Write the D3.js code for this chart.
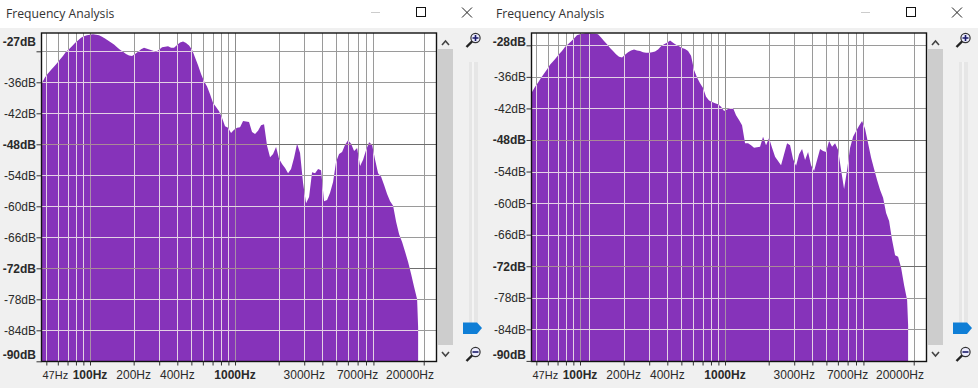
<!DOCTYPE html>
<html>
<head>
<meta charset="utf-8">
<script src="https://cdnjs.cloudflare.com/ajax/libs/d3/7.8.5/d3.min.js"></script>
<style>
  html, body { margin: 0; padding: 0; background: #f0f0f0; overflow: hidden; }
  svg { display: block; }
  text { font-family: "Liberation Sans", Arial, sans-serif; font-size: 12px; fill: #2a2a2a; }
  .title { font-family: "Open Sans", sans-serif; font-size: 12.2px; fill: #333; }
</style>
</head>
<body>
<div id="chart"></div>
<script>
// Spectrum envelope sampled at the same frequencies for both windows
const freqs = [46.7, 49, 51.3, 53.8, 56.4, 59.2, 62.1, 65.1, 68.3, 71.6, 75.1, 78.8, 82.6, 86.7, 90.9, 95.3,
  100, 104.9, 110, 115.4, 121, 126.9, 133.1, 139.6, 146.4, 153.6, 161.1, 168.9, 177.2, 185.8, 194.9,
  204.4, 214.4, 224.9, 235.8, 247.3, 259.4, 272.1, 285.3, 299.3, 313.9, 329.2, 345.3, 362.1, 379.8,
  398.3, 417.7, 438.1, 459.5, 481.9, 505.4, 530.1, 555.9, 583.1, 611.5, 641.3, 672.6, 705.4, 739.9,
  776, 813.8, 853.6, 895.2, 938.9, 984.7, 1033, 1083, 1136, 1191, 1249, 1310, 1374, 1441, 1512, 1585,
  1663, 1744, 1829, 1918, 2012, 2110, 2213, 2321, 2434, 2553, 2678, 2808, 2945, 3089, 3240, 3398,
  3564, 3738, 3920, 4111, 4312, 4522, 4743, 4975, 5217, 5472, 5739, 6019, 6313, 6621, 6944, 7283,
  7638, 8011, 8402, 8812, 9242, 9693, 10170, 10660, 11180, 11730, 12300, 12900, 13530, 14190, 14880,
  15610, 16370, 17170, 18010, 18300];

const leftDb = [-36.1, -35, -34.3, -33.6, -33, -32.3, -31.6, -30.9, -30.1, -29.6, -29, -28.4, -27.9, -27.4, -27.1, -26.9,
  -26.8, -26.7, -26.8, -26.9, -27.2, -27.5, -27.9, -28.3, -28.7, -29.2, -29.7, -30.1, -30.5, -30.8, -30.9,
  -30.5, -30.1, -29.6, -29.3, -29.5, -29.7, -29.9, -30.1, -29.7, -29.2, -29.1, -29, -29.3, -29.3,
  -28.8, -28.3, -28.1, -28.4, -28.9, -29.7, -31.2, -32.7, -34.4, -35.8, -36.8, -38.3, -40, -40.8,
  -41.6, -42.9, -44.5, -44.8, -45.8, -45.2, -44.8, -44.7, -43.5, -43.6, -43.7, -45.6, -46, -45.4, -44.3, -44.1,
  -48.3, -50.5, -49.9, -48.5, -50.8, -51.8, -52.6, -53.6, -52.8, -50.6, -47.9, -49.7, -55.5, -59.4, -58.2, -53.4,
  -53.6, -52.8, -53, -59, -58.8, -57.4, -55.3, -51.4, -49.9, -49.5, -48.1, -47.2, -47.9, -49.3, -48.7, -52.2,
  -51, -49.1, -47.6, -48.1, -51, -53.6, -54.3, -55.9, -57.6, -59, -59.9, -63, -65.4, -66.9, -68.8,
  -70.8, -73.1, -75.6, -78, -83.4];

const rightDb = [-38.9, -37.9, -37.1, -36.2, -35.4, -34.6, -33.7, -33.1, -32.4, -31.7, -31.1, -30.3, -29.8, -29.3, -28.7, -28.1,
  -27.9, -27.8, -27.7, -27.7, -27.8, -27.8, -27.9, -28.5, -29.2, -29.8, -30.5, -31.1, -31.7, -32.2, -32.3,
  -31.8, -31.3, -31, -30.8, -31, -31.1, -31.3, -31.4, -31.4, -31.3, -31.2, -30.8, -30.2, -29.8,
  -29.5, -29.1, -29.5, -29.9, -30.2, -30.5, -30.7, -31.1, -32, -34.7, -36.1, -37.2, -38.1, -39.8,
  -40.5, -40.8, -41, -41.2, -41.7, -42.5, -42.2, -41.9, -41.9, -43.3, -44.2, -45.2, -48.6, -48.6, -49, -49.5,
  -49.4, -49.3, -47.4, -49, -47.6, -49.5, -51.2, -52, -52.8, -50.7, -48.6, -49, -51.6, -52.9, -50.7, -49.7,
  -51.8, -50.3, -52.8, -53.9, -51.8, -49.7, -50.1, -50.3, -48.2, -49.3, -48.6, -49.9, -53.7, -57.3, -53.7, -49.5,
  -47.4, -46.3, -45.3, -44.4, -45.9, -48.6, -51.4, -53.5, -55.6, -57.5, -59, -61.9, -63.4, -67, -69.9,
  -70.2, -72.3, -75.6, -78.4, -83.2];

const gridHz = [50, 60, 70, 80, 90, 100, 200, 300, 400, 500, 600, 700, 800, 900, 1000,
  2000, 3000, 4000, 5000, 6000, 7000, 8000, 9000, 20000];
const majorHz = [100, 1000];
const hzLabels = [47, 100, 200, 400, 1000, 3000, 7000, 20000];
const gridDb = [-30, -36, -42, -48, -54, -60, -66, -72, -78, -84];
const majorDb = [-48, -72];
const dbLabelsCommon = [-36, -42, -48, -54, -60, -66, -72, -78, -84, -90];
const boldDb = [-48, -72, -90];

const W = 978, H = 388, panelW = 490;
const plot = { left: 41.5, right: 436.5, top: 33, bottom: 361.5 };
const purple = '#8633ba';

const svg = d3.select('#chart').append('svg').attr('width', W).attr('height', H);

function drawWindow(id, offset, dbValues, topDb, yTop, yBottom, topLabel, extraHz) {
  const g = svg.append('g').attr('transform', `translate(${offset},0)`);

  const x = d3.scaleLog().domain([46.3, 24500]).range([plot.left, plot.right]);
  const y = d3.scaleLinear().domain(topDb).range([yTop, yBottom]);
  const px = v => Math.round(v) + 0.5;

  // title bar
  g.append('rect').attr('width', panelW).attr('height', 28).attr('fill', '#fff');
  g.append('text').attr('class', 'title').attr('x', 6).attr('y', 18).text('Frequency Analysis');
  g.append('line').attr('x1', 371).attr('x2', 380).attr('y1', 12.5).attr('y2', 12.5).attr('stroke', '#ccc');
  g.append('rect').attr('x', 416.5).attr('y', 7.5).attr('width', 9).attr('height', 9).attr('fill', 'none').attr('stroke', '#111');
  g.append('path').attr('d', 'M462,7.5L472,17.5M472,7.5L462,17.5').attr('stroke', '#222').attr('fill', 'none');

  // plot background + gray grid
  g.append('rect').attr('x', plot.left).attr('y', plot.top)
    .attr('width', plot.right - plot.left).attr('height', plot.bottom - plot.top).attr('fill', '#fff');

  const allHz = extraHz ? gridHz.concat(extraHz) : gridHz;
  const drawGrid = (parent, vColor, hColor, vMajor, hMajor) => {
    parent.selectAll('line.v').data(allHz).enter().append('line').attr('class', 'v')
      .attr('x1', d => px(x(d))).attr('x2', d => px(x(d)))
      .attr('y1', plot.top).attr('y2', plot.bottom)
      .attr('stroke', d => majorHz.includes(d) ? vMajor : vColor);
    parent.selectAll('line.h').data(gridDb).enter().append('line').attr('class', 'h')
      .attr('x1', plot.left).attr('x2', plot.right)
      .attr('y1', d => px(y(d))).attr('y2', d => px(y(d)))
      .attr('stroke', d => majorDb.includes(d) ? hMajor : hColor);
  };
  drawGrid(g.append('g'), '#9a9a9a', '#9a9a9a', '#8c8c8c', '#6e6e6e');

  // spectrum
  const rows = freqs.map((f, i) => ({ f, db: dbValues[i] }));
  const area = d3.area().x(d => x(d.f)).y0(plot.bottom).y1(d => y(d.db));
  const full = [{ f: 46.3, db: dbValues[0] }].concat(rows);
  const pathD = area(full);
  g.append('path').attr('d', pathD).attr('fill', purple);

  // light grid only where it crosses the purple fill
  g.append('clipPath').attr('id', id).append('path').attr('d', pathD);
  drawGrid(g.append('g').attr('clip-path', `url(#${id})`), '#e4d2e4', '#e4d2e4', '#a98fa8', '#aa8a96');

  // frame and axes
  g.append('rect').attr('x', plot.left).attr('y', plot.top)
    .attr('width', plot.right - plot.left).attr('height', plot.bottom - plot.top)
    .attr('fill', 'none').attr('stroke', '#111').attr('stroke-width', 1.4);

  const xAxis = d3.axisBottom(x).tickValues(gridHz).tickSize(4).tickFormat('');
  g.append('g').attr('transform', `translate(0,${plot.bottom})`).call(xAxis)
    .call(a => a.select('.domain').remove())
    .selectAll('line').attr('stroke', '#333');
  const yAxis = d3.axisLeft(y).tickValues(gridDb.concat([-90])).tickSize(5).tickFormat('');
  g.append('g').attr('transform', `translate(${plot.left},0)`).call(yAxis)
    .call(a => a.select('.domain').remove())
    .selectAll('line').attr('stroke', '#333');

  // frequency labels, kept inside the plot width
  g.selectAll('text.hz').data(hzLabels).enter().append('text').attr('class', 'hz')
    .attr('y', 379)
    .attr('text-anchor', 'middle')
    .style('font-weight', d => majorHz.includes(d) ? 'bold' : null)
    .style('font-size', d => d === hzLabels[0] ? '11px' : null)
    .text(d => d + 'Hz')
    .attr('x', function (d) {
      const w = this.getComputedTextLength();
      return Math.min(Math.max(x(d), plot.left + 1 + w / 2), plot.right - 2.5 - w / 2);
    });

  // level labels, first and last pushed inward like the Audacity ruler
  const dbLabels = [topLabel].concat(dbLabelsCommon);
  g.selectAll('text.db').data(dbLabels).enter().append('text').attr('class', 'db')
    .attr('x', 36).attr('text-anchor', 'end')
    .attr('y', d => Math.max(41, Math.min(354, y(d))) + 4.5)
    .style('font-weight', d => (d === topLabel || boldDb.includes(d)) ? 'bold' : null)
    .text(d => d + 'dB');

  // scrollbar
  g.append('rect').attr('x', 438).attr('y', 49).attr('width', 15).attr('height', 296).attr('fill', '#cdcdcd');
  g.append('path').attr('d', 'M442,45L445.5,41L449,45').attr('fill', 'none').attr('stroke', '#444').attr('stroke-width', 1.6);
  g.append('path').attr('d', 'M442,352L445.5,356L449,352').attr('fill', 'none').attr('stroke', '#444').attr('stroke-width', 1.6);

  // zoom slider
  g.append('rect').attr('x', 469).attr('y', 62).attr('width', 9).attr('height', 262).attr('fill', '#e6e6e6');
  g.append('rect').attr('x', 472).attr('y', 62).attr('width', 2).attr('height', 262).attr('fill', '#f4f4f4');
  g.append('path').attr('d', 'M463,322.5H477L482,328L477,334H463Z').attr('fill', '#0f7ed6');

  const magnifier = (cy, plus) => {
    const m = g.append('g').attr('transform', `translate(475.5,${cy})`);
    m.append('line').attr('x1', -3).attr('y1', 3).attr('x2', -9).attr('y2', 9)
      .attr('stroke', '#222').attr('stroke-width', 2.4);
    m.append('circle').attr('r', 4.6).attr('fill', '#eef').attr('stroke', '#333').attr('stroke-width', 1.2);
    m.append('path').attr('d', plus ? 'M-3,0H3M0,-3V3' : 'M-3,0H3').attr('stroke', '#1a1a6a').attr('stroke-width', 1.6);
  };
  magnifier(38, true);
  magnifier(352, false);
}

drawWindow('clipLeft', 0, leftDb, [-30, -90], 51.3, 361.3, -27, null);
drawWindow('clipRight', 490, rightDb, [-30, -90], 45.3, 360.9, -28, [116]);
</script>
</body>
</html>
